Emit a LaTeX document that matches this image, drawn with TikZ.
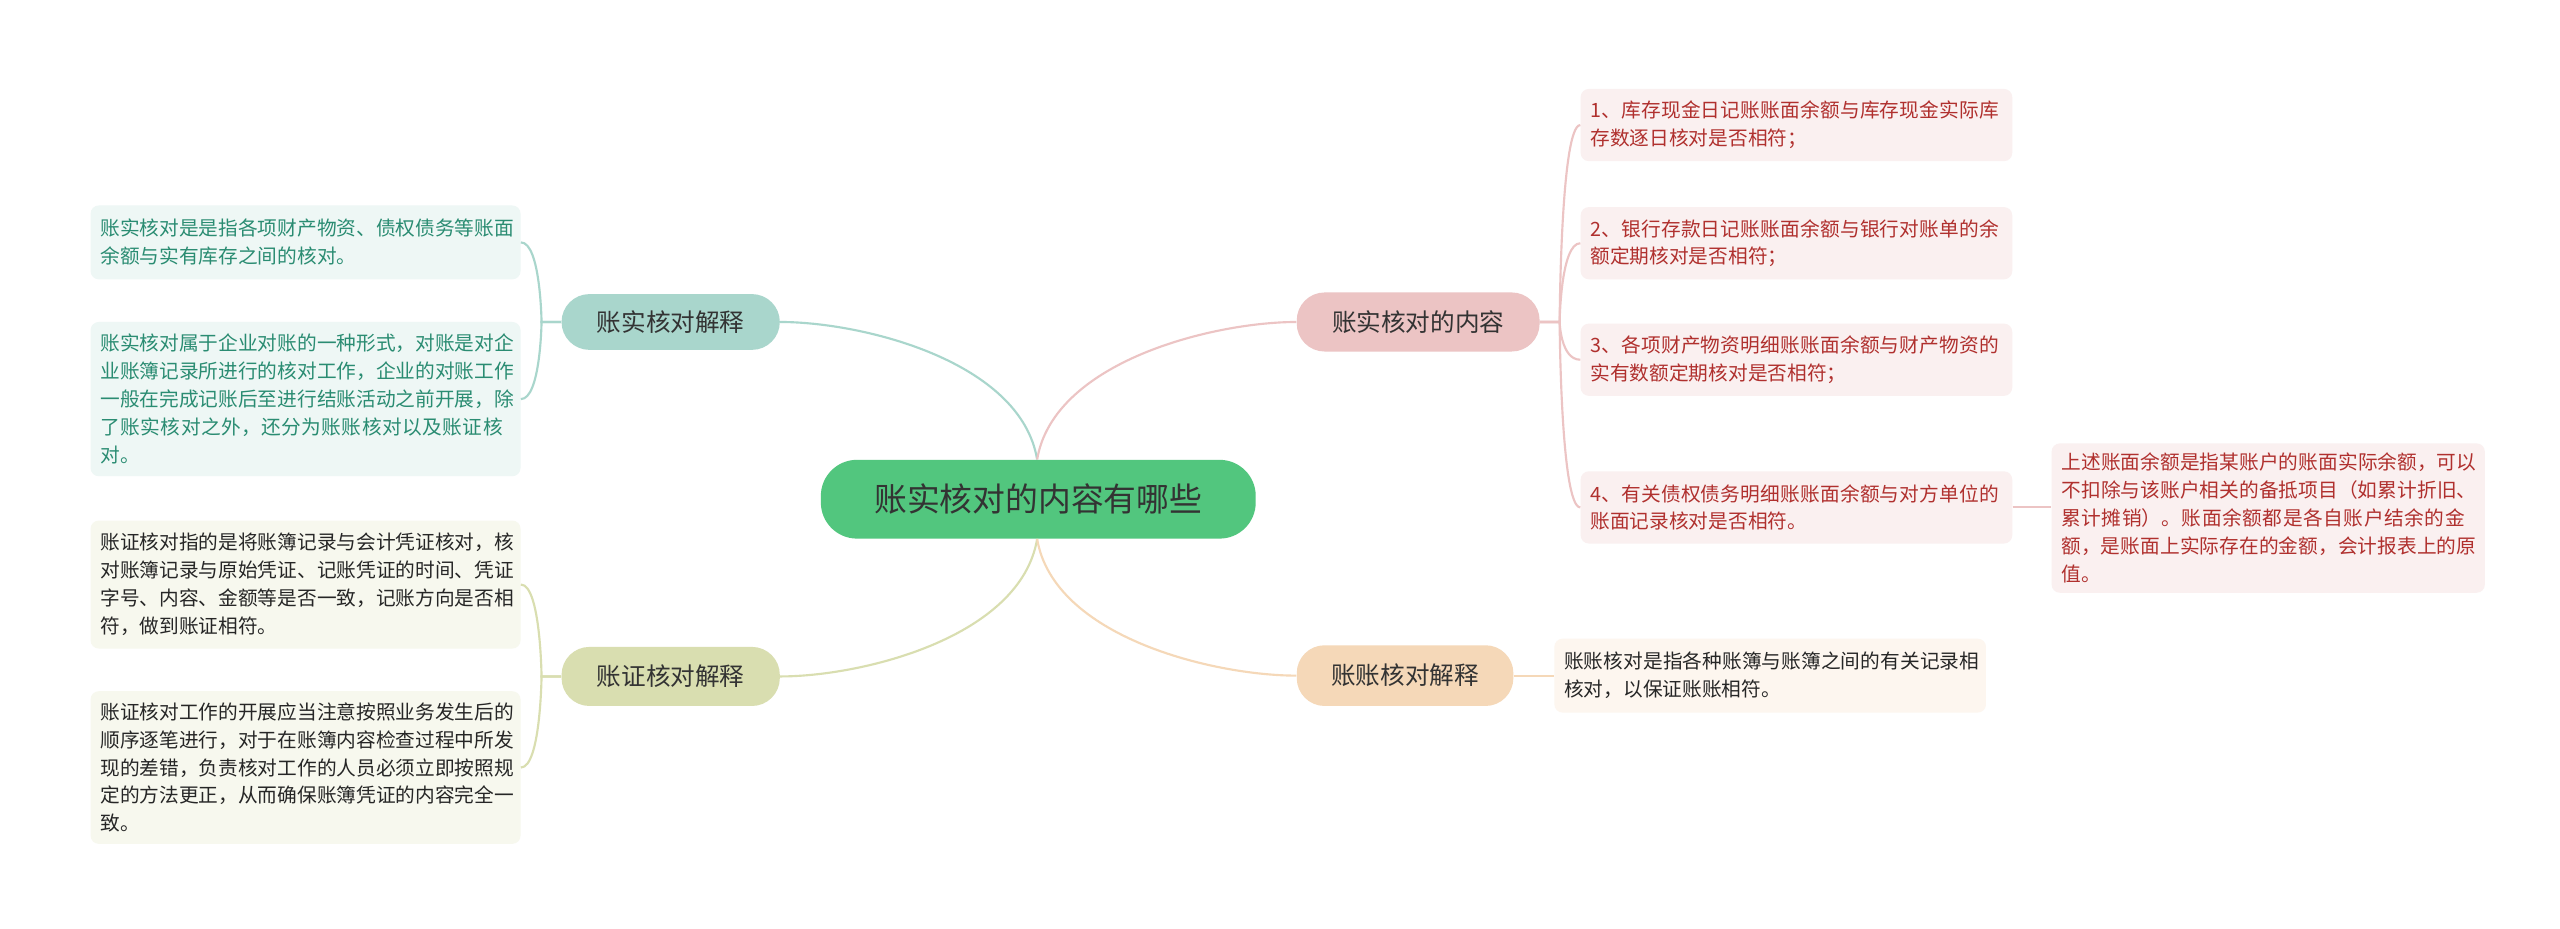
\documentclass[tikz,border=0pt]{standalone}
\usepackage{fontspec}
\setmainfont{Noto Sans CJK SC}
\XeTeXlinebreaklocale "zh"
\XeTeXlinebreakskip=0pt plus 1pt
\begin{document}
\begin{tikzpicture}[x=1pt,y=-1pt,
 box/.style={rounded corners=5pt,inner sep=0pt,anchor=north west},
 leaf/.style={box,align=left,font=\fontsize{12}{17}\selectfont,text width=#1},
 br/.style={rounded corners=17pt,inner sep=0pt,anchor=north west,font=\fontsize{15}{18}\selectfont,text=black!80,align=center},
 ln/.style={line width=1.3pt}]
\definecolor{cgreen}{HTML}{52C67E}
\definecolor{cteal}{HTML}{A9D6CC}
\definecolor{colive}{HTML}{D9DEB0}
\definecolor{cpink}{HTML}{ECC4C4}
\definecolor{cpeach}{HTML}{F5D8B8}
\definecolor{tteal}{HTML}{2A8C72}
\definecolor{tred}{HTML}{B0302E}
\useasboundingbox (0,0) rectangle (1560,566);
\fill[white] (0,0) rectangle (1560,566);
% center
\node[br,fill=cgreen,rounded corners=22pt,minimum width=265pt,minimum height=48pt,font=\fontsize{20}{24}\selectfont] (c) at (500,280) {账实核对的内容有哪些};
\node[br,fill=cteal,minimum width=133pt,minimum height=34pt] (b1) at (342,179) {账实核对解释};
\node[br,fill=colive,minimum width=133pt,minimum height=36pt] (b2) at (342,394) {账证核对解释};
\node[br,fill=cpink,minimum width=148pt,minimum height=36pt] (b3) at (790,178) {账实核对的内容};
\node[br,fill=cpeach,minimum width=132pt,minimum height=37pt] (b4) at (790,393) {账账核对解释};
% left leaves
\node[box,fill=cteal!20,minimum width=262pt,minimum height=45pt] (l1) at (55,125) {};
\node[leaf=252pt,text=tteal,anchor=west] at ([xshift=6pt]l1.west) {账实核对是是指各项财产物资、债权债务等账面余额与实有库存之间的核对。};
\node[box,fill=cteal!20,minimum width=262pt,minimum height=94pt] (l2) at (55,196) {};
\node[leaf=252pt,text=tteal,anchor=west] at ([xshift=6pt]l2.west) {账实核对属于企业对账的一种形式，对账是对企业账簿记录所进行的核对工作，企业的对账工作一般在完成记账后至进行结账活动之前开展，除了账实核对之外，还分为账账核对以及账证核对。};
\node[box,fill=colive!22,minimum width=262pt,minimum height=78pt] (l3) at (55,317) {};
\node[leaf=252pt,text=black!85,anchor=west] at ([xshift=6pt]l3.west) {账证核对指的是将账簿记录与会计凭证核对，核对账簿记录与原始凭证、记账凭证的时间、凭证字号、内容、金额等是否一致，记账方向是否相符，做到账证相符。};
\node[box,fill=colive!22,minimum width=262pt,minimum height=93pt] (l4) at (55,421) {};
\node[leaf=252pt,text=black!85,anchor=west] at ([xshift=6pt]l4.west) {账证核对工作的开展应当注意按照业务发生后的顺序逐笔进行，对于在账簿内容检查过程中所发现的差错，负责核对工作的人员必须立即按照规定的方法更正，从而确保账簿凭证的内容完全一致。};
% right leaves
\foreach \n/\y/\t in {r1/54/{1、库存现金日记账账面余额与库存现金实际库存数逐日核对是否相符；},r2/126/{2、银行存款日记账账面余额与银行对账单的余额定期核对是否相符；},r3/197/{3、各项财产物资明细账账面余额与财产物资的实有数额定期核对是否相符；},r4/287/{4、有关债权债务明细账账面余额与对方单位的账面记录核对是否相符。}}{
 \node[box,fill=cpink!25,minimum width=263pt,minimum height=44pt] (\n) at (963,\y) {};
 \node[leaf=252pt,text=tred,anchor=west] at ([xshift=6pt]\n.west) {\t};
}
\node[box,fill=cpink!25,minimum width=264pt,minimum height=91pt] (r5) at (1250,270) {};
\node[leaf=254pt,text=tred,anchor=west] at ([xshift=6pt]r5.west) {上述账面余额是指某账户的账面实际余额，可以不扣除与该账户相关的备抵项目（如累计折旧、累计摊销）。账面余额都是各自账户结余的金额，是账面上实际存在的金额，会计报表上的原值。};
\node[box,fill=cpeach!22,minimum width=263pt,minimum height=45pt] (r6) at (947,389) {};
\node[leaf=254pt,text=black!85,anchor=west] at ([xshift=6pt]r6.west) {账账核对是指各种账簿与账簿之间的有关记录相核对，以保证账账相符。};
% center connectors
\draw[ln,cteal] ([xshift=132pt]c.north west) .. controls +(-10,-60) and +(50,0) .. (b1.east);
\draw[ln,colive] ([xshift=132pt]c.south west) .. controls +(-10,60) and +(50,0) .. (b2.east);
\draw[ln,cpink] ([xshift=132pt]c.north west) .. controls +(10,-60) and +(-50,0) .. (b3.west);
\draw[ln,cpeach] ([xshift=132pt]c.south west) .. controls +(10,60) and +(-50,0) .. (b4.west);
% brackets
\foreach \l in {l1,l2}{\draw[ln,cteal] (b1.west) -- ++(-12,0) .. controls +(0,0) and +(12,0) .. (\l.east);}
\foreach \l in {l3,l4}{\draw[ln,colive] (b2.west) -- ++(-12,0) .. controls +(0,0) and +(12,0) .. (\l.east);}
\foreach \r in {r1,r2,r3,r4}{\draw[ln,cpink] (b3.east) -- ++(12,0) .. controls +(0,0) and +(-12,0) .. (\r.west);}
\draw[ln,cpink] (r4.east) -- (r4.east -| r5.west);
\draw[ln,cpeach] (b4.east) -- (r6.west);
\end{tikzpicture}
\end{document}
